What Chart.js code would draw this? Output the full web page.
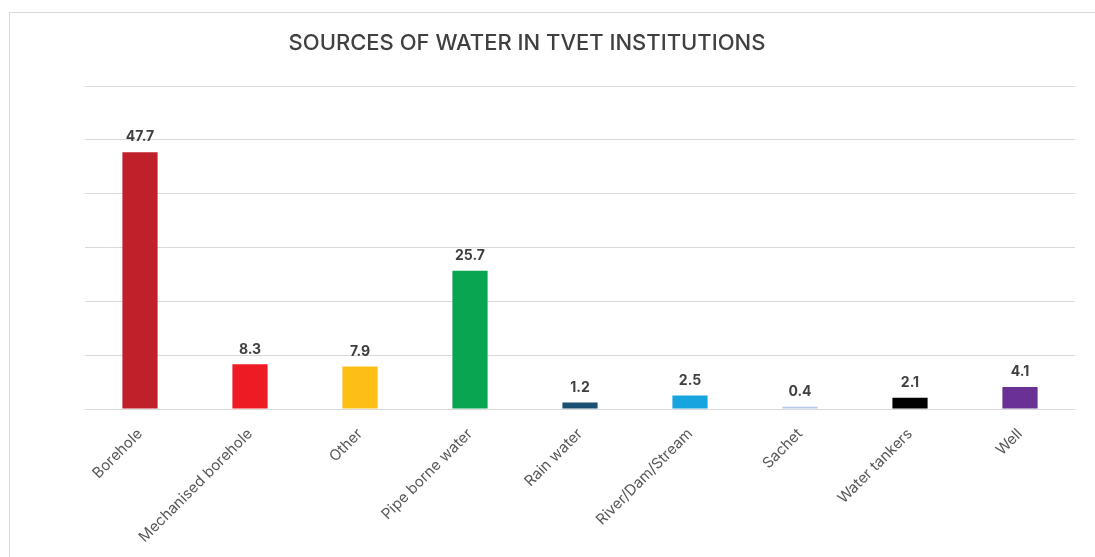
<!DOCTYPE html>
<html>
<head>
<meta charset="utf-8">
<script src="https://cdn.jsdelivr.net/npm/chart.js@4"></script>
<style>
  html, body { margin: 0; padding: 0; background: #fff; }
  #wrap { position: relative; width: 1095px; height: 557px; overflow: hidden; }
  #frame { position: absolute; left: 9px; top: 12px; width: 1100px; height: 560px;
           border: 1px solid #d9d9d9; box-sizing: border-box; }
  #waterChart { position: absolute; left: 0; top: 0; }
</style>
</head>
<body>
<div id="wrap">
  <div id="frame"></div>
  <canvas id="waterChart" width="1095" height="557"></canvas>
</div>
<script>
const chartTitle = "SOURCES OF WATER IN TVET INSTITUTIONS";
const sources = ["Borehole", "Mechanised borehole", "Other", "Pipe borne water", "Rain water",
                 "River/Dam/Stream", "Sachet", "Water tankers", "Well"];
const percentages = [47.7, 8.3, 7.9, 25.7, 1.2, 2.5, 0.4, 2.1, 4.1];
const barColors = ["#c0202a", "#ed1c24", "#fdbf16", "#0aa550", "#1b4f72",
                   "#18a4de", "#b4c7e7", "#000000", "#6a3093"];

const FONT = "Inter, 'Liberation Sans', sans-serif";

// heading sits a little left of the plot centre, so it is drawn by hand
const heading = {
    id: 'heading',
    afterDraw: function(chart) {
        let ctx = chart.ctx;
        ctx.save();
        ctx.font = "500 22px " + FONT;
        ctx.fillStyle = "#404040";
        ctx.textAlign = "center";
        ctx.textBaseline = "middle";
        ctx.fillText(chartTitle, 527, 43);
        ctx.restore();
    }
};

// writes the value above each bar
const valueLabels = {
    id: 'valueLabels',
    afterDatasetsDraw: function(chart) {
        let ctx = chart.ctx;
        let meta = chart.getDatasetMeta(0);
        ctx.save();
        ctx.font = "bold 14px " + FONT;
        ctx.fillStyle = "#404040";
        ctx.textAlign = "center";
        ctx.textBaseline = "bottom";
        meta.data.forEach((bar, i) => {
            ctx.fillText(percentages[i].toFixed(1), bar.x, bar.y - 8);
        });
        ctx.restore();
    }
};

let ctx = document.getElementById('waterChart').getContext('2d');
new Chart(ctx, {
    type: 'bar',
    data: {
        labels: sources,
        datasets: [{
            data: percentages,
            backgroundColor: barColors,
            borderWidth: 0,
            barPercentage: 0.64,
            categoryPercentage: 0.5
        }]
    },
    options: {
        responsive: false,
        animation: false,
        layout: { padding: { left: 85, right: 20, top: 86, bottom: 8 } },
        plugins: {
            legend: { display: false },
            tooltip: { enabled: false },
            title: { display: false }
        },
        scales: {
            x: {
                grid: { display: false },
                border: { display: false },
                ticks: {
                    color: "#595959",
                    font: { family: FONT, size: 15 },
                    maxRotation: 45,
                    minRotation: 45,
                    autoSkip: false,
                    padding: 8
                },
                afterFit: function(scale) { scale.height = 140; }
            },
            y: {
                min: 0,
                max: 60,
                ticks: { display: false, stepSize: 10 },
                grid: { color: "#d9d9d9", drawTicks: false },
                border: { display: false }
            }
        }
    },
    plugins: [valueLabels, heading]
});
</script>
</body>
</html>
